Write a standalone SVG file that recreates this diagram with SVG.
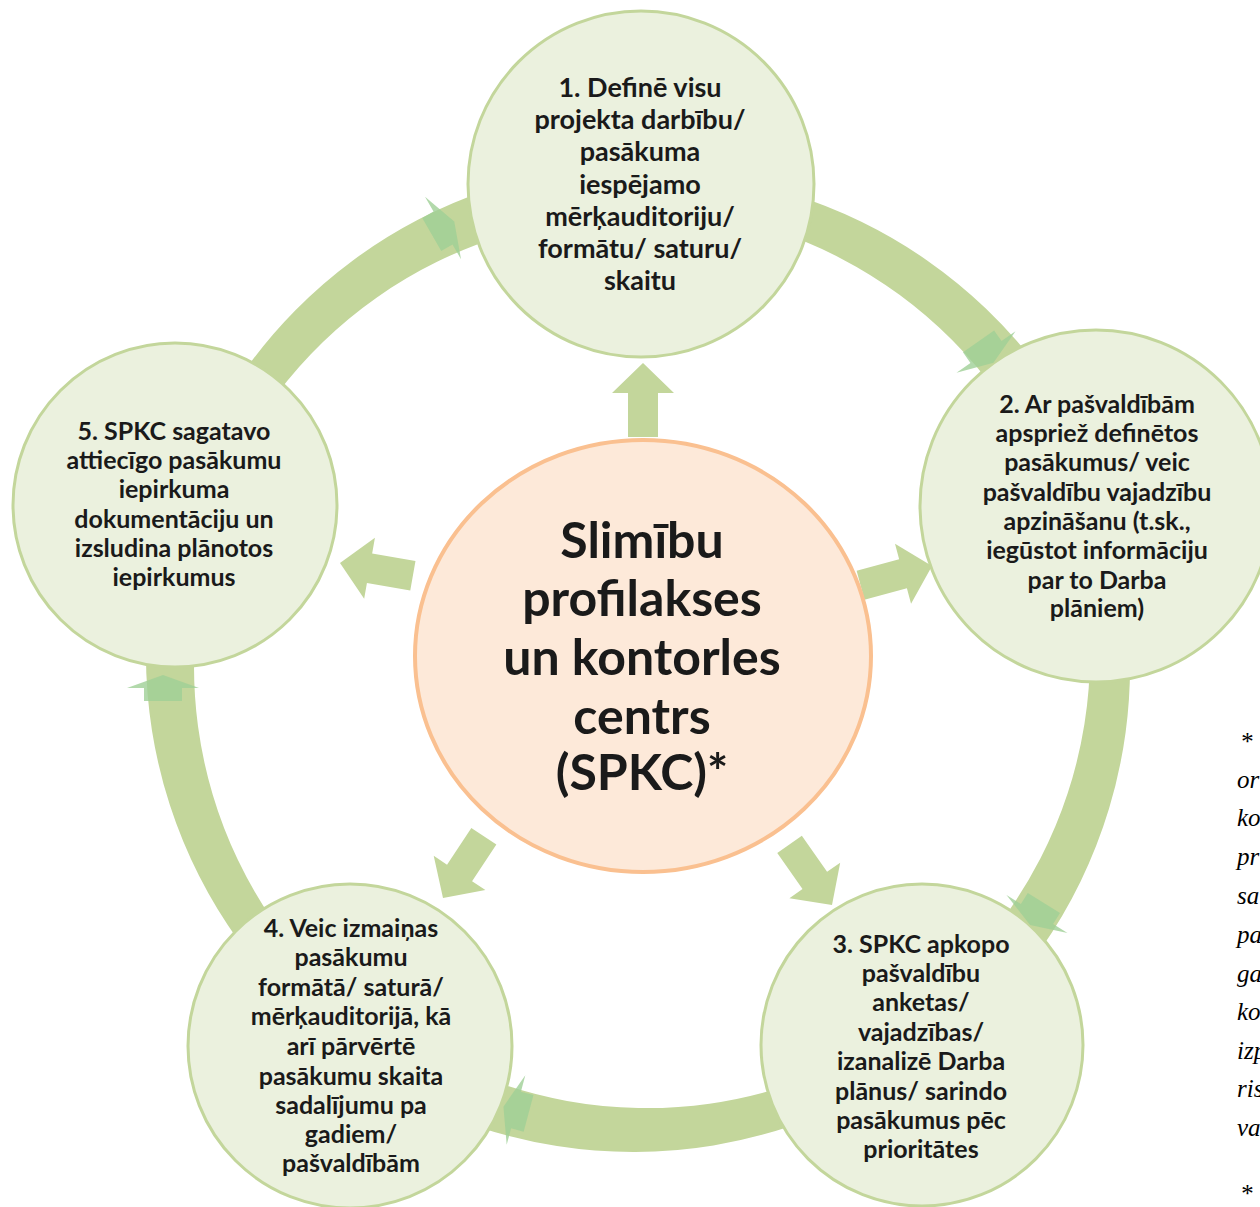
<svg xmlns="http://www.w3.org/2000/svg" width="1260" height="1207" viewBox="0 0 1260 1207">
<defs>
<style>
.band{fill:#c3d69b;}
.head{fill:#9fd096;opacity:0.8;}
.carrow{fill:#c3d69b;}
.node{fill:#ebf1de;stroke:#c3d69b;stroke-width:3;}
.center{fill:#fde9d9;stroke:#fac090;stroke-width:4;}
.t{font-family:Lato,"Open Sans",sans-serif;font-weight:bold;fill:#1a1a1a;text-anchor:middle;}
.t1{font-size:27px;}
.t2{font-size:25px;}
.tc{font-size:50px;}
.note{font-family:"Liberation Serif","Times New Roman",serif;font-style:italic;font-size:25px;fill:#000;}
</style>
<polygon id="rh" points="13,0 0,36 0,19 -13,19 -13,-19 0,-19 0,-36"/>
<polygon id="ca" points="0,0 -30,31 -30,15 -74,15 -74,-15 -30,-15 -30,-31"/>
</defs>
<rect width="1260" height="1207" fill="#ffffff"/>
<g id="connectors">
<path class="band" d="M640,172 A492,492 0 0 1 1109.3,499.3 L1060.1,516.2 A448,448 0 0 0 640,208 Z"/>
<path class="band" d="M1101.7,501.9 A492,492 0 0 1 932.9,1060.3 L902.2,1018.3 A448,448 0 0 0 1067.6,513.6 Z"/>
<path class="band" d="M928.2,1053.8 A492,492 0 0 1 341.5,1056.1 L372.8,1014.6 A448,448 0 0 0 906.9,1024.8 Z"/>
<path class="band" d="M346.3,1049.7 A492,492 0 0 1 169.3,503.5 L218.7,519.9 A448,448 0 0 0 368,1021 Z"/>
<path class="band" d="M176.9,506 A492,492 0 0 1 640,164 L640,216 A448,448 0 0 0 211.1,517.3 Z"/>
<use href="#ca" class="carrow" transform="translate(643,363) rotate(-90)"/>
<use href="#ca" class="carrow" transform="translate(932,566) rotate(-15)"/>
<use href="#ca" class="carrow" transform="translate(832,905) rotate(55)"/>
<use href="#ca" class="carrow" transform="translate(443,898) rotate(123.5)"/>
<use href="#ca" class="carrow" transform="translate(340,563) rotate(190)"/>
</g>
<g id="node-center">
<ellipse class="center" cx="643" cy="656" rx="228" ry="216"/>
<text class="t tc" x="642" y="558">Slimību</text>
<text class="t tc" x="642" y="616">profilakses</text>
<text class="t tc" x="642" y="675">un kontorles</text>
<text class="t tc" x="642" y="734">centrs</text>
<text class="t tc" x="642" y="790">(SPKC)*</text>
</g>
<g id="node-1">
<circle class="node" cx="641" cy="184" r="173"/>
<text class="t t1" x="640" y="97">1. Definē visu</text>
<text class="t t1" x="640" y="129">projekta darbību/</text>
<text class="t t1" x="640" y="161">pasākuma</text>
<text class="t t1" x="640" y="194">iespējamo</text>
<text class="t t1" x="640" y="226">mērķauditoriju/</text>
<text class="t t1" x="640" y="258">formātu/ saturu/</text>
<text class="t t1" x="640" y="290">skaitu</text>
</g>
<g id="node-2">
<circle class="node" cx="1096" cy="506" r="176"/>
<text class="t t2" x="1097" y="413">2. Ar pašvaldībām</text>
<text class="t t2" x="1097" y="442">apspriež definētos</text>
<text class="t t2" x="1097" y="471">pasākumus/ veic</text>
<text class="t t2" x="1097" y="501">pašvaldību vajadzību</text>
<text class="t t2" x="1097" y="530">apzināšanu (t.sk.,</text>
<text class="t t2" x="1097" y="559">iegūstot informāciju</text>
<text class="t t2" x="1097" y="589">par to Darba</text>
<text class="t t2" x="1097" y="617">plāniem)</text>
</g>
<g id="node-3">
<circle class="node" cx="922" cy="1045" r="161"/>
<text class="t t2" x="921" y="953">3. SPKC apkopo</text>
<text class="t t2" x="921" y="982">pašvaldību</text>
<text class="t t2" x="921" y="1011">anketas/</text>
<text class="t t2" x="921" y="1041">vajadzības/</text>
<text class="t t2" x="921" y="1070">izanalizē Darba</text>
<text class="t t2" x="921" y="1100">plānus/ sarindo</text>
<text class="t t2" x="921" y="1129">pasākumus pēc</text>
<text class="t t2" x="921" y="1158">prioritātes</text>
</g>
<g id="node-4">
<circle class="node" cx="350" cy="1046" r="162"/>
<text class="t t2" x="351" y="937">4. Veic izmaiņas</text>
<text class="t t2" x="351" y="966">pasākumu</text>
<text class="t t2" x="351" y="996">formātā/ saturā/</text>
<text class="t t2" x="351" y="1025">mērķauditorijā, kā</text>
<text class="t t2" x="351" y="1055">arī pārvērtē</text>
<text class="t t2" x="351" y="1085">pasākumu skaita</text>
<text class="t t2" x="351" y="1114">sadalījumu pa</text>
<text class="t t2" x="351" y="1143">gadiem/</text>
<text class="t t2" x="351" y="1172">pašvaldībām</text>
</g>
<g id="node-5">
<circle class="node" cx="175" cy="505" r="162"/>
<text class="t t2" x="174" y="440">5. SPKC sagatavo</text>
<text class="t t2" x="174" y="469">attiecīgo pasākumu</text>
<text class="t t2" x="174" y="498">iepirkuma</text>
<text class="t t2" x="174" y="528">dokumentāciju un</text>
<text class="t t2" x="174" y="557">izsludina plānotos</text>
<text class="t t2" x="174" y="586">iepirkumus</text>
</g>
<g id="connector-arrowheads">
<use href="#rh" class="head" transform="translate(443,228) rotate(-30)"/>
<use href="#rh" class="head" transform="translate(986,352) rotate(55)"/>
<use href="#rh" class="head" transform="translate(1037,914) rotate(122)"/>
<use href="#rh" class="head" transform="translate(516,1110) rotate(195)"/>
<use href="#rh" class="head" transform="translate(163,688) rotate(-90)"/>
</g>
<g id="footnote">
<text class="note" x="1240" y="750">*</text>
<text class="note" x="1237" y="788">or</text>
<text class="note" x="1237" y="826">ko</text>
<text class="note" x="1237" y="865">pr</text>
<text class="note" x="1237" y="904">sa</text>
<text class="note" x="1237" y="943">pa</text>
<text class="note" x="1237" y="982">ga</text>
<text class="note" x="1237" y="1020">ko</text>
<text class="note" x="1237" y="1059">izp</text>
<text class="note" x="1237" y="1097">ris</text>
<text class="note" x="1237" y="1136">va</text>
<text class="note" x="1240" y="1202">*</text>
</g>
</svg>
